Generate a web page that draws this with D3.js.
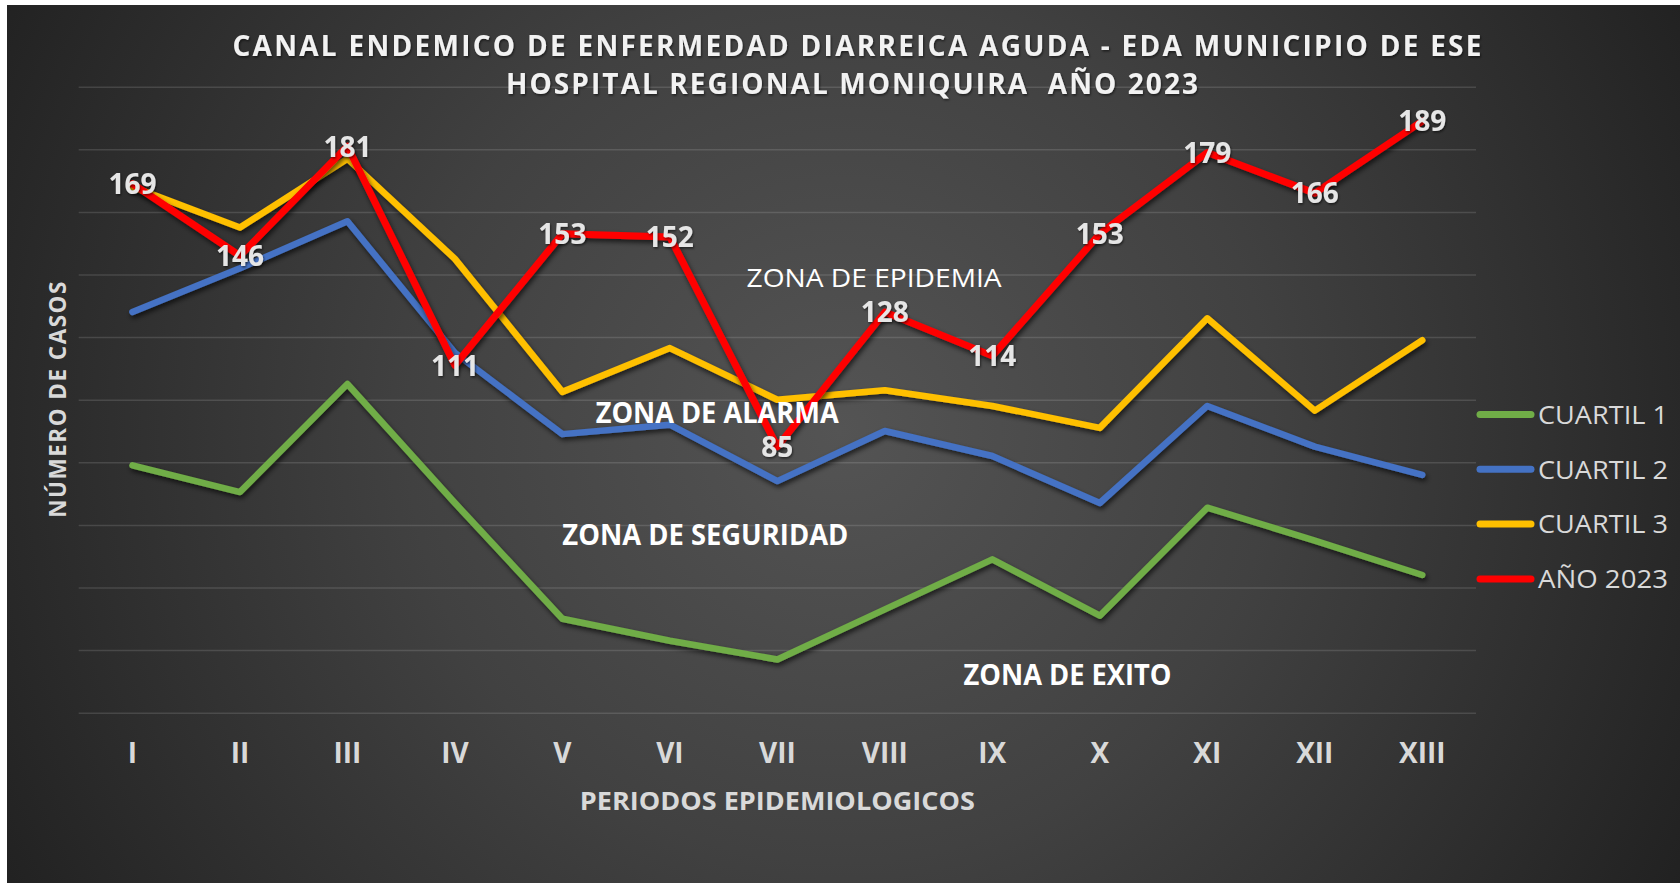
<!DOCTYPE html>
<html>
<head>
<meta charset="utf-8">
<script src="https://cdn.jsdelivr.net/npm/d3@7"></script>
<style>
  body { margin: 0; background: #fff; }
  svg { display: block; }
  text { font-family: "Open Sans", "Noto Sans", sans-serif; }
</style>
</head>
<body>
<div id="graph"></div>
<script>
// valores
var periods = ["I", "II", "III", "IV", "V", "VI", "VII", "VIII", "IX", "X", "XI", "XII", "XIII"];
var cuartil1 = [79, 70.5, 105, 67, 30, 23, 17, 33, 49, 31, 65.5, 55, 44];
var cuartil2 = [128, 142, 157, 115, 89, 92, 74, 90, 82, 67, 98, 85, 76];
var cuartil3 = [168, 155, 177, 145, 102.5, 116.5, 100, 103, 98, 91, 126, 96.5, 119];
var year2023 = [169, 146, 181, 111, 153, 152, 85, 128, 114, 153, 179, 166, 189];
var seriesNames = ["CUARTIL 1", "CUARTIL 2", "CUARTIL 3", "AÑO 2023"];
var yTicks = [0, 20, 40, 60, 80, 100, 120, 140, 160, 180, 200];
var zoneNames = ["ZONA DE EPIDEMIA", "ZONA DE ALARMA", "ZONA DE SEGURIDAD", "ZONA DE EXITO"];

var colors = ["#70ad47", "#4472c4", "#ffc000", "#ff0000"];

addEventListener("load", function () {
  draw();
});

function draw() {
  var W = 1680, H = 883;
  var left = 78.7, right = 1476, top = 86.7, bottom = 712.7;

  var svg = d3.select("#graph")
      .append("svg")
      .attr("width", W)
      .attr("height", H);

  var defs = svg.append("defs");
  var grad = defs.append("radialGradient")
      .attr("id", "bg")
      .attr("gradientUnits", "userSpaceOnUse")
      .attr("cx", 840).attr("cy", 430).attr("r", 960);
  grad.append("stop").attr("offset", 0).attr("stop-color", "#545454");
  grad.append("stop").attr("offset", 0.45).attr("stop-color", "#414141");
  grad.append("stop").attr("offset", 1).attr("stop-color", "#212121");

  var sh = defs.append("filter").attr("id", "shadow")
      .attr("x", "-5%").attr("y", "-20%").attr("width", "110%").attr("height", "140%");
  sh.append("feDropShadow")
      .attr("dx", 1.5).attr("dy", 3).attr("stdDeviation", 2.5)
      .attr("flood-color", "#000").attr("flood-opacity", 0.65);

  var tsh = defs.append("filter").attr("id", "tshadow");
  tsh.append("feDropShadow")
      .attr("dx", 1).attr("dy", 1.5).attr("stdDeviation", 1.2)
      .attr("flood-color", "#000").attr("flood-opacity", 0.55);

  svg.append("rect")
      .attr("x", 7).attr("y", 5)
      .attr("width", W - 7).attr("height", H - 5)
      .attr("fill", "url(#bg)");

  var x = d3.scaleBand().domain(periods).range([left, right]);
  var y = d3.scaleLinear().domain([0, 200]).range([bottom, top]);
  var cx = function (i) { return left + (i + 0.5) * x.step(); };

  // lineas de division
  var grid = svg.append("g")
      .attr("transform", "translate(" + left + ",0)")
      .call(d3.axisLeft(y).tickValues(yTicks).tickSize(-(right - left)).tickFormat(""));
  grid.select(".domain").remove();
  grid.selectAll("line")
      .attr("stroke", "#ffffff")
      .attr("stroke-opacity", 0.13)
      .attr("stroke-width", 1.5);

  // eje x
  var xAxis = svg.append("g")
      .attr("transform", "translate(0," + bottom + ")")
      .call(d3.axisBottom(x).tickSize(0).tickPadding(30.5));
  xAxis.select(".domain").remove();
  xAxis.selectAll("text")
      .attr("fill", "#d9d9d9")
      .style("font-size", "28px")
      .style("font-weight", "bold")
      .style("font-family", "'Open Sans', sans-serif");

  // series
  var all = [cuartil1, cuartil2, cuartil3, year2023];
  var line = d3.line()
      .x(function (d, i) { return cx(i); })
      .y(function (d) { return y(d); });

  svg.selectAll("path.serie")
    .data(all)
    .enter()
    .append("path")
      .attr("class", "serie")
      .attr("d", line)
      .attr("fill", "none")
      .attr("stroke", function (d, i) { return colors[i]; })
      .attr("stroke-width", function (d, i) { return i == 3 ? 7 : 6.5; })
      .attr("stroke-linejoin", "round")
      .attr("stroke-linecap", "round")
      .attr("filter", "url(#shadow)");

  // etiquetas de zonas
  var zoneAt = [6.9, 5.44, 5.33, 8.7];
  var zoneLevel = [136, 92.5, 53.5, 9];
  var zoneLen = [255, 243, 286, 208];
  svg.selectAll("text.zona")
    .data(zoneNames)
    .enter()
    .append("text")
      .attr("class", "zona")
      .attr("x", function (d, i) { return cx(zoneAt[i]); })
      .attr("y", function (d, i) { return y(zoneLevel[i]); })
      .attr("text-anchor", "middle")
      .attr("textLength", function (d, i) { return zoneLen[i]; })
      .attr("lengthAdjust", "spacingAndGlyphs")
      .attr("fill", "#ffffff")
      .style("font-size", function (d, i) { return i == 0 ? "25px" : "28px"; })
      .style("font-weight", function (d, i) { return i == 0 ? "normal" : "bold"; })
      .text(function (d) { return d; });

  // etiquetas de datos
  svg.selectAll("text.valor")
    .data(year2023)
    .enter()
    .append("text")
      .attr("class", "valor")
      .attr("x", function (d, i) { return cx(i); })
      .attr("y", function (d) { return y(d); })
      .attr("dy", "0.37em")
      .attr("text-anchor", "middle")
      .attr("fill", "#e6e6e6")
      .attr("filter", "url(#tshadow)")
      .style("font-size", "28px")
      .style("font-weight", "bold")
      .text(function (d) { return d; });

  // titulo
  var title = svg.append("text")
      .attr("text-anchor", "middle")
      .attr("fill", "#f2f2f2")
      .attr("filter", "url(#tshadow)")
      .style("font-size", "28px")
      .style("font-weight", "bold");
  title.append("tspan")
      .attr("x", 857).attr("y", 55.5)
      .attr("textLength", 1249).attr("lengthAdjust", "spacing")
      .text("CANAL ENDEMICO DE ENFERMEDAD DIARREICA AGUDA - EDA MUNICIPIO DE ESE");
  title.append("tspan")
      .attr("x", 852).attr("y", 94)
      .attr("textLength", 692).attr("lengthAdjust", "spacing")
      .attr("xml:space", "preserve")
      .text("HOSPITAL REGIONAL MONIQUIRA\u00a0 AÑO 2023");

  // titulos de ejes
  svg.append("text")
      .attr("x", (left + right) / 2).attr("y", 810)
      .attr("text-anchor", "middle")
      .attr("textLength", 395).attr("lengthAdjust", "spacingAndGlyphs")
      .attr("fill", "#d9d9d9")
      .style("font-size", "25px")
      .style("font-weight", "bold")
      .text("PERIODOS EPIDEMIOLOGICOS");

  svg.append("text")
      .attr("transform", "translate(65.5," + (top + bottom) / 2 + ") rotate(-90)")
      .attr("text-anchor", "middle")
      .attr("textLength", 236).attr("lengthAdjust", "spacing")
      .attr("fill", "#d9d9d9")
      .style("font-size", "22.5px")
      .style("font-weight", "bold")
      .text("NÚMERO DE CASOS");

  // leyenda
  var legend = svg.selectAll("g.leyenda")
    .data(seriesNames)
    .enter()
    .append("g")
      .attr("class", "leyenda")
      .attr("transform", function (d, i) { return "translate(1477," + (414.5 + i * 54.8) + ")"; });
  legend.append("line")
      .attr("x1", 3).attr("x2", 54)
      .attr("stroke", function (d, i) { return colors[i]; })
      .attr("stroke-width", 7)
      .attr("stroke-linecap", "round");
  legend.append("text")
      .attr("x", 61).attr("dy", "0.36em")
      .attr("textLength", 130).attr("lengthAdjust", "spacingAndGlyphs")
      .attr("fill", "#d9d9d9")
      .style("font-size", "26px")
      .text(function (d) { return d; });
}
</script>
</body>
</html>
